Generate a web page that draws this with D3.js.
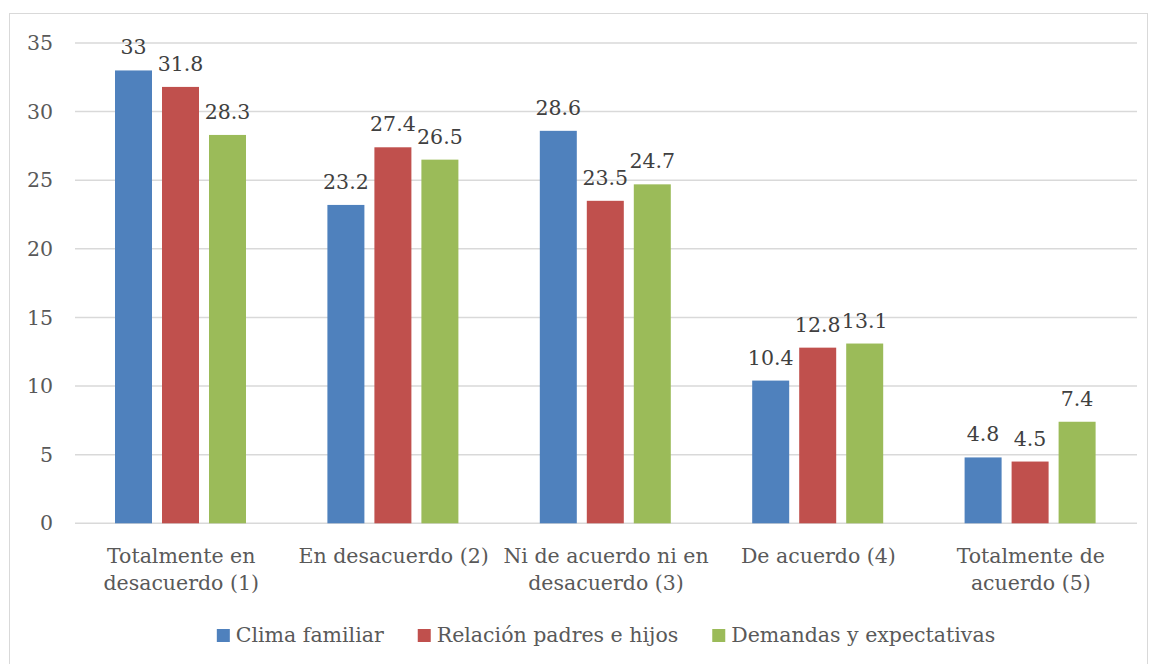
<!DOCTYPE html>
<html>
<head>
<meta charset="utf-8">
<script src="https://cdn.jsdelivr.net/npm/d3@7"></script>
<style>
  body { margin: 0; background: #fff; }
  text { font-family: "DejaVu Serif", serif; }
</style>
</head>
<body>
<div id="chart"></div>
<script>
var categories = [
    ["Totalmente en", "desacuerdo (1)"],
    ["En desacuerdo (2)"],
    ["Ni de acuerdo ni en", "desacuerdo (3)"],
    ["De acuerdo (4)"],
    ["Totalmente de", "acuerdo (5)"]
];
var seriesNames = ["Clima familiar", "Relación padres e hijos", "Demandas y expectativas"];
var clima = [33, 23.2, 28.6, 10.4, 4.8];
var relacion = [31.8, 27.4, 23.5, 12.8, 4.5];
var demandas = [28.3, 26.5, 24.7, 13.1, 7.4];
var yTicks = [0, 5, 10, 15, 20, 25, 30, 35];
var colors = ["#4f81bd", "#c0504d", "#9bbb59"];

var W = 1153, H = 664;
var margin = {top: 43, right: 16, bottom: 140, left: 75};
var width = W - margin.left - margin.right;
var height = H - margin.top - margin.bottom - 0.7;
var fs = "20.5px";

var svg = d3.select("#chart")
    .append("svg")
    .attr("width", W)
    .attr("height", H);

// chart frame
svg.append("rect")
    .attr("x", 9.5)
    .attr("y", 13.5)
    .attr("width", 1138)
    .attr("height", 660)
    .attr("fill", "none")
    .attr("stroke", "#d9d9d9")
    .attr("stroke-width", 1);

var g = svg.append("g")
    .attr("transform", "translate(" + margin.left + "," + margin.top + ")");

var catIdx = categories.map(function (d, i) { return i; });

var x0 = d3.scaleBand()
    .domain(catIdx)
    .range([0, width]);

var x1 = d3.scaleBand()
    .domain([0, 1, 2])
    .range([40, 40 + 131])
    .paddingInner(10 / 47);

var y = d3.scaleLinear()
    .domain([0, 35])
    .range([height, 0]);

// gridlines
g.append("g")
    .selectAll("line")
    .data(yTicks)
    .enter()
    .append("line")
    .attr("x1", 0)
    .attr("x2", width)
    .attr("y1", function (d) { return y(d); })
    .attr("y2", function (d) { return y(d); })
    .attr("stroke", "#d9d9d9")
    .attr("stroke-width", 1.5);

// y labels
var yAxis = d3.axisLeft(y)
    .tickValues(yTicks)
    .tickSize(0)
    .tickPadding(22);

g.append("g")
    .call(yAxis)
    .call(function (a) { a.select(".domain").remove(); })
    .selectAll("text")
    .attr("fill", "#595959")
    .style("font-size", fs)
    .style("font-family", "DejaVu Serif");

var series = [clima, relacion, demandas];
var data = [];
catIdx.forEach(function (c) {
    series.forEach(function (s, j) {
        data.push({cat: c, s: j, v: s[c]});
    });
});

g.selectAll("rect.bar")
    .data(data)
    .enter()
    .append("rect")
    .attr("class", "bar")
    .attr("x", function (d) { return x0(d.cat) + x1(d.s); })
    .attr("y", function (d) { return y(d.v); })
    .attr("width", x1.bandwidth())
    .attr("height", function (d) { return height - y(d.v); })
    .attr("fill", function (d) { return colors[d.s]; });

g.selectAll("text.val")
    .data(data)
    .enter()
    .append("text")
    .attr("class", "val")
    .attr("x", function (d) { return x0(d.cat) + x1(d.s) + x1.bandwidth() / 2; })
    .attr("y", function (d) { return y(d.v) - 16; })
    .attr("text-anchor", "middle")
    .attr("fill", "#404040")
    .style("font-size", fs)
    .text(function (d) { return d.v; });

// category labels
var cl = g.selectAll("text.cat")
    .data(categories)
    .enter()
    .append("text")
    .attr("class", "cat")
    .attr("text-anchor", "middle")
    .attr("fill", "#595959")
    .style("font-size", fs)
    .attr("transform", function (d, i) {
        return "translate(" + (x0(i) + x0.bandwidth() / 2) + "," + (height + 39.5) + ")";
    });

cl.selectAll("tspan")
    .data(function (d) { return d; })
    .enter()
    .append("tspan")
    .attr("x", 0)
    .attr("dy", function (d, i) { return i === 0 ? 0 : 27; })
    .text(function (d) { return d; });

// legend
var legend = svg.append("g")
    .attr("transform", "translate(0,642)");

var gap = 34;
var lx = 0;
var items = legend.selectAll("g")
    .data(seriesNames)
    .enter()
    .append("g");

items.append("rect")
    .attr("x", 0)
    .attr("y", -13)
    .attr("width", 13)
    .attr("height", 13)
    .attr("fill", function (d, i) { return colors[i]; });

items.append("text")
    .attr("x", 19)
    .attr("y", 0)
    .attr("fill", "#595959")
    .style("font-size", fs)
    .text(function (d) { return d; });

var offsets = [];
items.each(function () {
    offsets.push(lx);
    lx += 19 + this.querySelector("text").getComputedTextLength() + gap;
});
var total = lx - gap;
var start = margin.left + width / 2 - total / 2;
items.attr("transform", function (d, i) {
    return "translate(" + (start + offsets[i]) + ",0)";
});
</script>
</body>
</html>
